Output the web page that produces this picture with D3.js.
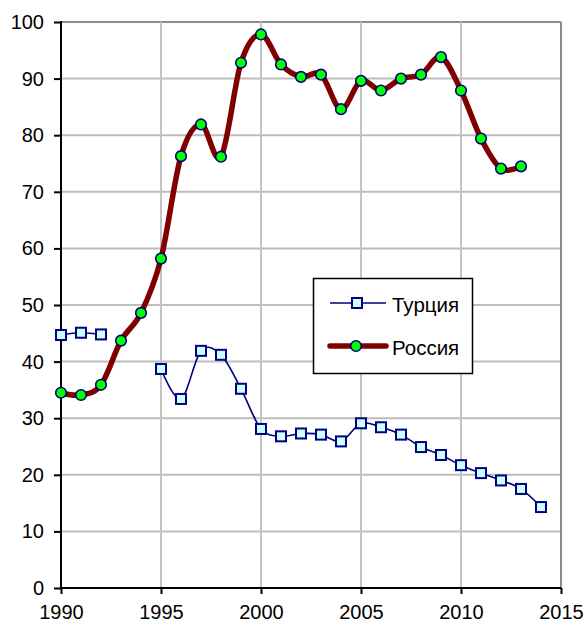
<!DOCTYPE html>
<html><head><meta charset="utf-8">
<script src="https://cdn.jsdelivr.net/npm/d3@7"></script>
<style>body{margin:0;background:#fff}svg{display:block}text{font-family:"Liberation Sans",Arial,sans-serif}</style>
</head><body><svg id="c" width="586" height="626"></svg>
<script>
const years = d3.range(1990, 2015);
const turkey = [44.7,45.1,44.8,null,null,38.7,33.4,41.9,41.2,35.2,28.1,26.8,27.3,27.1,25.9,29.1,28.4,27.1,24.9,23.5,21.7,20.3,19.0,17.5,14.3];
const russia = [34.5,34.1,35.9,43.7,48.6,58.2,76.3,81.9,76.2,92.8,97.8,92.5,90.3,90.7,84.6,89.6,87.9,90.0,90.7,93.8,87.9,79.4,74.1,74.5,null];
const xTicks = [1990,1995,2000,2005,2010,2015];
const yTicks = [0,10,20,30,40,50,60,70,80,90,100];
const seriesNames = ["Турция","Россия"];

const svg = d3.select("#c");
const L=61, R=561, T=22, B=588;
const x = d3.scaleLinear().domain([1990,2015]).range([L,R]);
const y = d3.scaleLinear().domain([0,100]).range([B,T]);

// grid
svg.append("g").selectAll("line").data(yTicks.slice(1)).join("line")
  .attr("x1",L).attr("x2",R).attr("y1",d=>y(d)).attr("y2",d=>y(d))
  .attr("stroke",d=>d===100?"#8c8c8c":"#bdbdbd").attr("stroke-width",2);
svg.append("g").selectAll("line").data(xTicks.slice(1)).join("line")
  .attr("y1",T).attr("y2",B).attr("x1",d=>x(d)).attr("x2",d=>x(d))
  .attr("stroke",d=>d===2015?"#8c8c8c":"#c4c4c4").attr("stroke-width",2);

// axes
const ya = svg.append("g").attr("transform",`translate(${L},0)`)
  .call(d3.axisLeft(y).tickValues(yTicks).tickSize(7).tickPadding(10).tickFormat(d3.format("d")));
const xa = svg.append("g").attr("transform",`translate(0,${B})`)
  .call(d3.axisBottom(x).tickValues(xTicks).tickSize(6).tickPadding(11).tickFormat(d3.format("d")));
[ya,xa].forEach(a=>{
  a.select(".domain").attr("stroke","#000").attr("stroke-width",2);
  a.selectAll(".tick line").attr("stroke","#000").attr("stroke-width",2);
  a.selectAll("text").attr("font-size",20).attr("fill","#000").style("font-family",'"Liberation Sans",Arial,sans-serif');
});
ya.select(".domain").attr("d",`M0,${T-1}V${B}`);
xa.select(".domain").attr("d",`M${L},0H${R}`);

const curve = d3.curveCatmullRom.alpha(0);
const tData = years.map((yr,i)=>({yr,v:turkey[i]}));
const rData = years.map((yr,i)=>({yr,v:russia[i]}));
const line = d3.line().defined(d=>d.v!=null).x(d=>x(d.yr)).y(d=>y(d.v)).curve(curve);

svg.append("path").datum(tData).attr("d",line).attr("fill","none").attr("stroke","#000080").attr("stroke-width",1.6);
svg.append("path").datum(rData).attr("d",line).attr("fill","none").attr("stroke","#800000").attr("stroke-width",5.5).attr("stroke-linejoin","round");

svg.append("g").selectAll("rect").data(tData.filter(d=>d.v!=null)).join("rect")
  .attr("x",d=>x(d.yr)-5).attr("y",d=>y(d.v)-5).attr("width",10).attr("height",10)
  .attr("fill","#ccffff").attr("stroke","#000080").attr("stroke-width",2);
svg.append("g").selectAll("circle").data(rData.filter(d=>d.v!=null)).join("circle")
  .attr("cx",d=>x(d.yr)).attr("cy",d=>y(d.v)).attr("r",5.3)
  .attr("fill","#00ff00").attr("stroke","#000080").attr("stroke-width",1.6);

// legend
const lg = svg.append("g");
lg.append("rect").attr("x",313.5).attr("y",278.5).attr("width",159).attr("height",95)
  .attr("fill","#fff").attr("stroke","#000").attr("stroke-width",1.5);
lg.append("line").attr("x1",330).attr("x2",386).attr("y1",303).attr("y2",303).attr("stroke","#000080").attr("stroke-width",1.6);
lg.append("rect").attr("x",352).attr("y",298).attr("width",10).attr("height",10).attr("fill","#ccffff").attr("stroke","#000080").attr("stroke-width",2);
lg.append("line").attr("x1",330).attr("x2",386).attr("y1",346).attr("y2",346).attr("stroke","#800000").attr("stroke-width",5.5).attr("stroke-linecap","round");
lg.append("circle").attr("cx",356).attr("cy",346).attr("r",5.3).attr("fill","#00ff00").attr("stroke","#000080").attr("stroke-width",1.6);
lg.selectAll("text.l").data(seriesNames).join("text").attr("class","l")
  .attr("x",392).attr("y",(d,i)=>i?355:311.5).attr("font-size",20.5).attr("fill","#000").text(d=>d);
</script></body></html>
